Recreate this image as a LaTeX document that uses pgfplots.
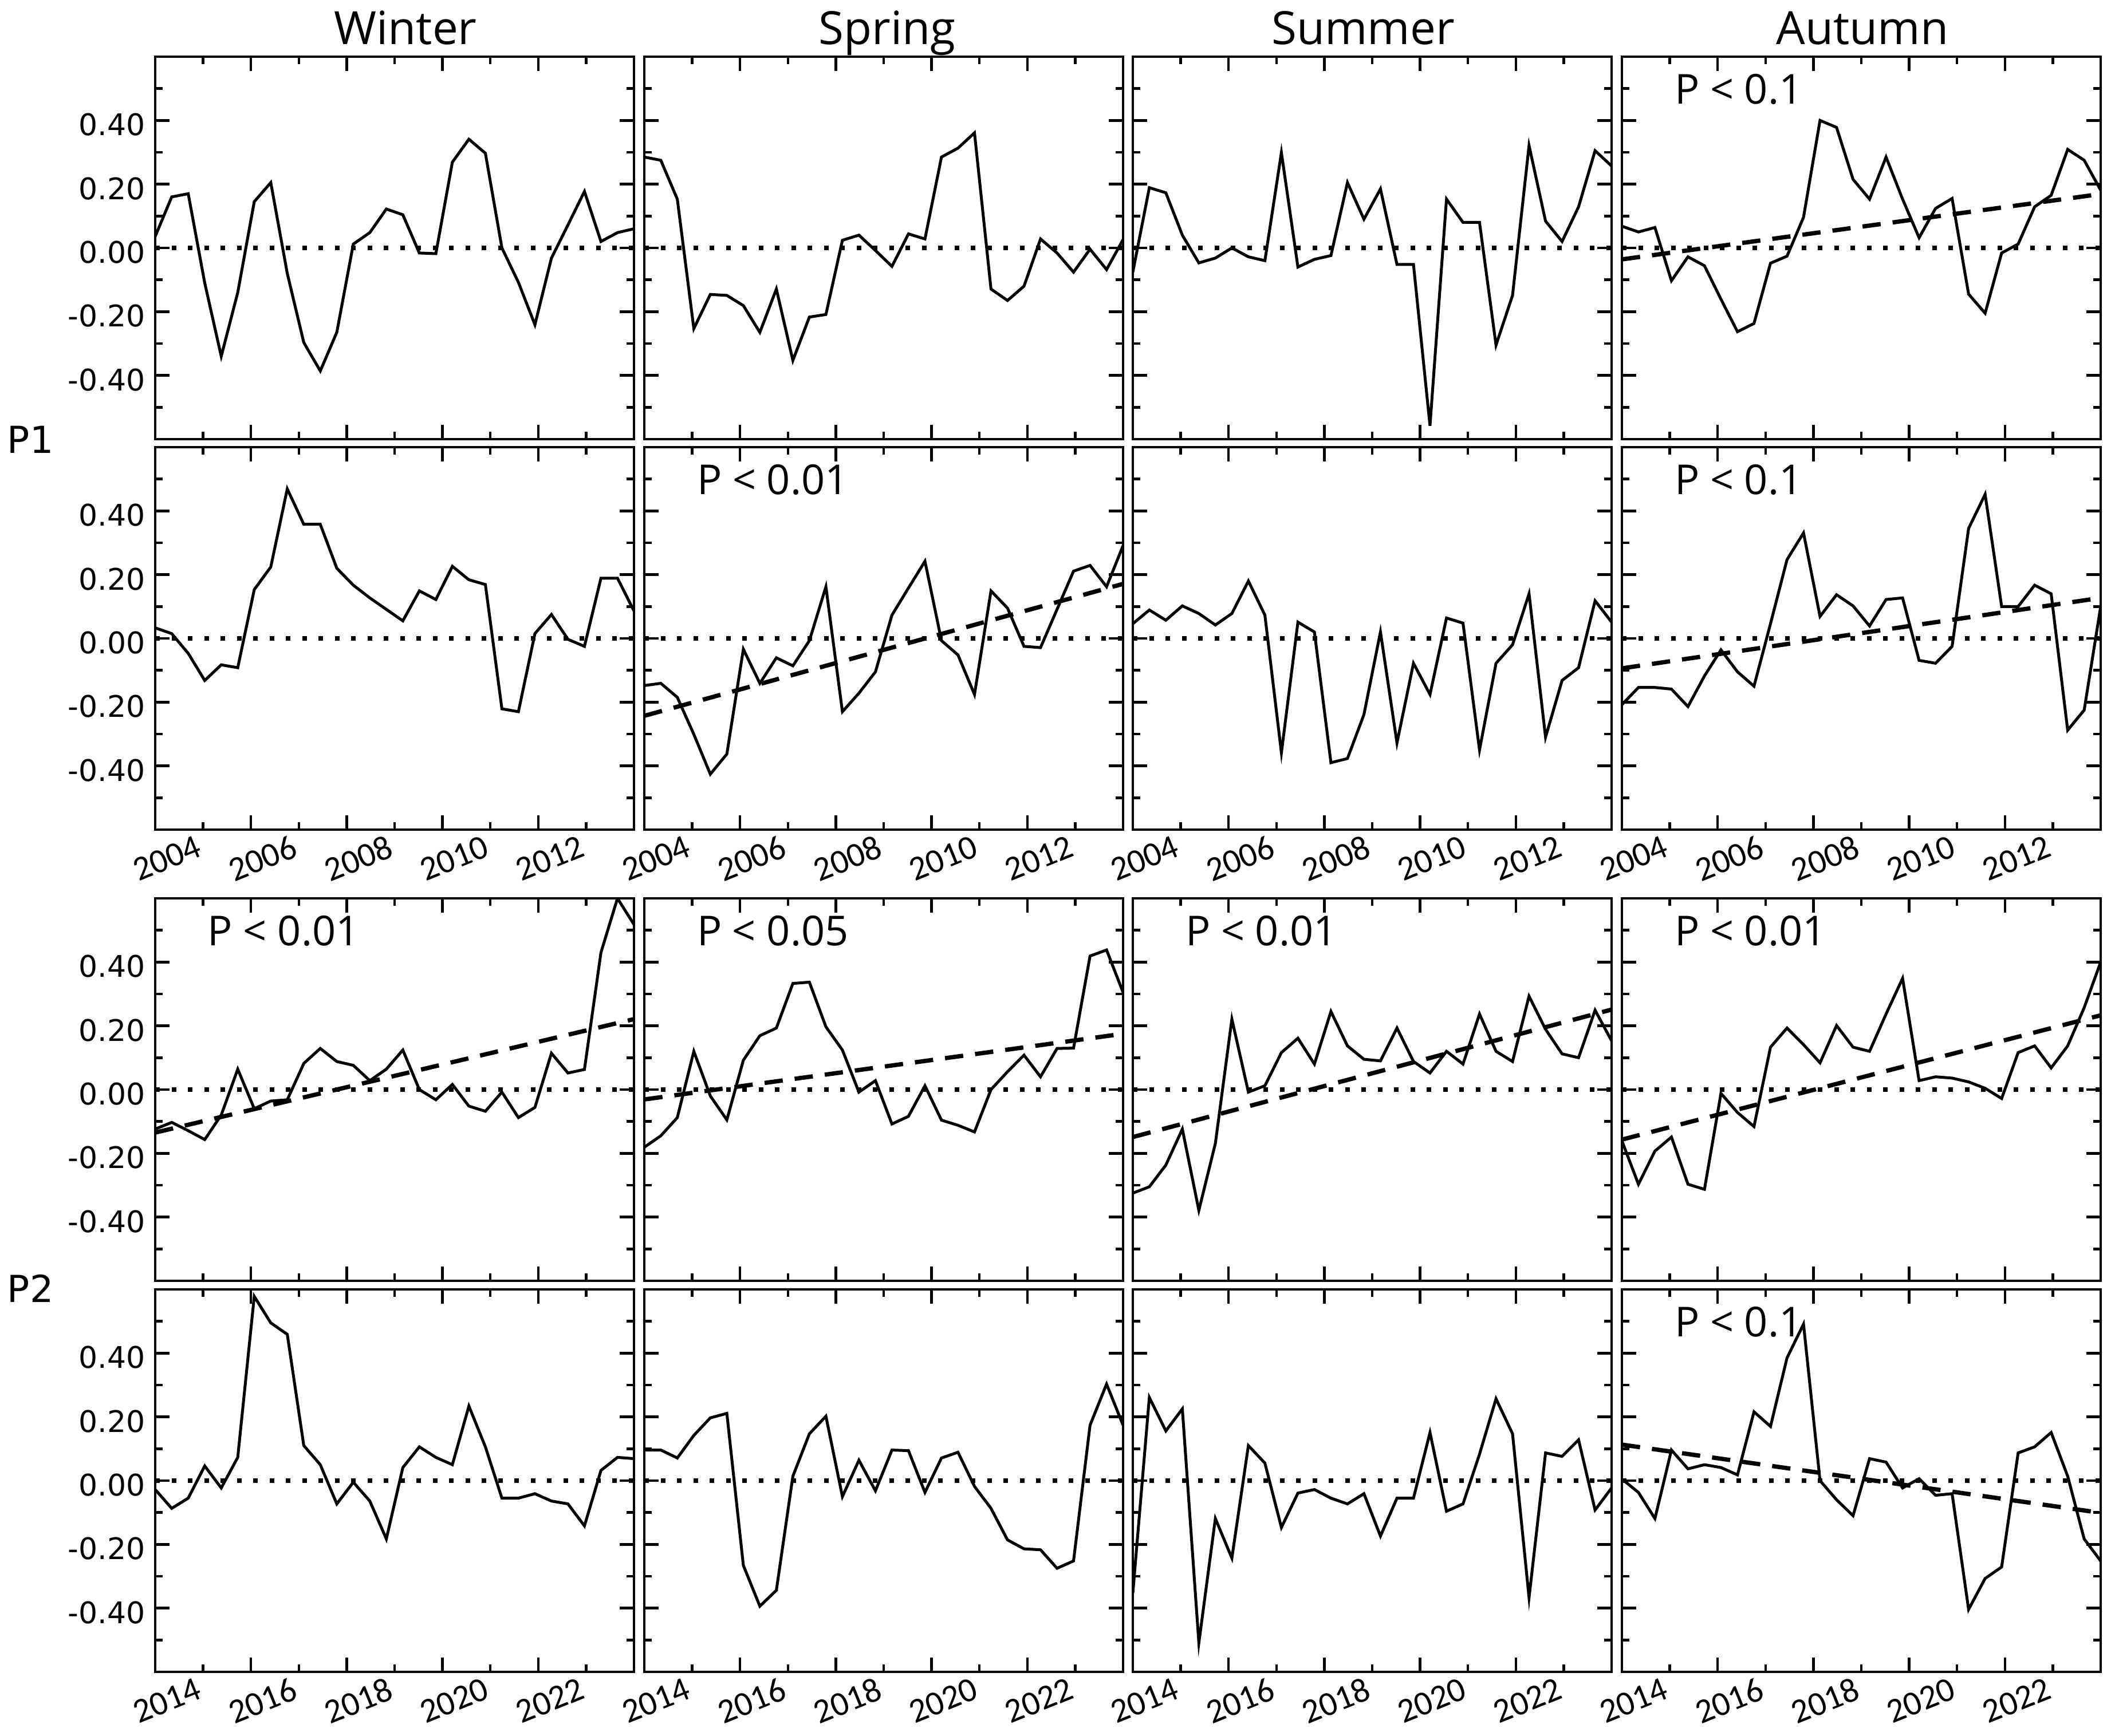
\documentclass[border=0pt]{standalone}
\usepackage{pgfplots}
\pgfplotsset{compat=1.18}
\usepackage{fontspec}
\setmainfont{Open Sans}
\newfontfamily\dejavu{DejaVu Sans}
\newfontfamily\carlito{Carlito}

% one panel = 836 x 668 px of the reference, 1 px = 0.2 pt
\pgfplotsset{
  panel/.style={
    scale only axis, width=167.2pt, height=133.6pt, anchor=north west,
    xmin=0, xmax=29, ymin=-0.6, ymax=0.6,
    axis line style={line width=0.9pt},
    tick align=inside, tick pos=both,
    xtick={0,5.8,11.6,17.4,23.2}, minor xtick={2.9,8.7,14.5,20.3,26.1},
    ytick={-0.4,-0.2,0,0.2,0.4}, minor ytick={-0.5,-0.3,-0.1,0.1,0.3,0.5},
    major tick length=5pt, minor tick length=2.6pt,
    every tick/.style={black, line width=0.9pt},
    xticklabels={}, yticklabels={},
    xticklabel style={font=\carlito\fontsize{12}{12}\selectfont, rotate=22, anchor=center, yshift=-10.8pt},
    yticklabel style={font=\dejavu\fontsize{10.4}{12}\selectfont, yshift=-1.5pt},
  },
  ylab/.style={yticklabels={-0.40,-0.20,0.00,0.20,0.40}},
  xlabA/.style={xticklabels={2004,2006,2008,2010,2012}},
  xlabB/.style={xticklabels={2014,2016,2018,2020,2022}},
  series/.style={black, line width=1pt, no marks},
  trend/.style={black, line width=1.5pt, dash pattern=on 6.4pt off 4.2pt, no marks},
  zero/.style={black, line width=1.6pt, dash pattern=on 1.6pt off 4.1pt, no marks},
}
\newcommand{\zeroline}{\addplot[zero] coordinates {(0,0) (29,0)};}
\newcommand{\ptext}[1]{\node[anchor=north west, inner sep=0pt, xshift=18.2pt, yshift=-5.8pt,
  font=\fontsize{14.4}{16}\selectfont] at (rel axis cs:0,1) {#1};}

\begin{document}
\begin{tikzpicture}
\path[use as bounding box] (0,0) rectangle (737.2pt,-606.4pt);

% column titles
\node[font=\fontsize{16}{18}\selectfont, anchor=base] at (141.6pt,-15.6pt) {Winter};
\node[font=\fontsize{16}{18}\selectfont, anchor=base] at (309.8pt,-15.6pt) {Spring};
\node[font=\fontsize{16}{18}\selectfont, anchor=base] at (476.0pt,-15.6pt) {Summer};
\node[font=\fontsize{16}{18}\selectfont, anchor=base] at (650.4pt,-15.6pt) {Autumn};
\node[font=\dejavu\fontsize{13}{14}\selectfont, anchor=west, inner sep=0pt] at (2.4pt,-153.6pt) {P1};
\node[font=\dejavu\fontsize{13}{14}\selectfont, anchor=west, inner sep=0pt] at (2.4pt,-450pt) {P2};

% ---------------- P1, row 1 ----------------
\begin{axis}[panel, ylab, at={(54.2pt,-19.8pt)}]
\zeroline
\addplot[series] coordinates {(0,0.036)(1,0.16)(2,0.17)(3,-0.11)(4,-0.34)(5,-0.14)(6,0.145)(7,0.205)(8,-0.08)(9,-0.297)(10,-0.386)(11,-0.265)(12,0.012)(13,0.048)(14,0.122)(15,0.104)(16,-0.016)(17,-0.018)(18,0.269)(19,0.341)(20,0.297)(21,0.0)(22,-0.108)(23,-0.241)(24,-0.032)(25,0.072)(26,0.177)(27,0.02)(28,0.048)(29,0.06)};
\end{axis}

\begin{axis}[panel, at={(225.0pt,-19.8pt)}]
\zeroline
\addplot[series] coordinates {(0,0.285)(1,0.275)(2,0.153)(3,-0.253)(4,-0.146)(5,-0.149)(6,-0.181)(7,-0.265)(8,-0.129)(9,-0.353)(10,-0.217)(11,-0.209)(12,0.024)(13,0.04)(14,-0.008)(15,-0.058)(16,0.044)(17,0.028)(18,0.285)(19,0.313)(20,0.361)(21,-0.129)(22,-0.165)(23,-0.12)(24,0.028)(25,-0.016)(26,-0.076)(27,-0.004)(28,-0.068)(29,0.026)};
\end{axis}

\begin{axis}[panel, at={(395.6pt,-19.8pt)}]
\zeroline
\addplot[series] coordinates {(0,-0.076)(1,0.189)(2,0.173)(3,0.04)(4,-0.047)(5,-0.032)(6,0.0)(7,-0.028)(8,-0.04)(9,0.299)(10,-0.06)(11,-0.036)(12,-0.024)(13,0.205)(14,0.09)(15,0.185)(16,-0.052)(17,-0.052)(18,-0.558)(19,0.153)(20,0.08)(21,0.08)(22,-0.305)(23,-0.149)(24,0.321)(25,0.084)(26,0.02)(27,0.129)(28,0.305)(29,0.257)};
\end{axis}

\begin{axis}[panel, at={(566.4pt,-19.8pt)}]
\zeroline
\addplot[series] coordinates {(0,0.068)(1,0.05)(2,0.064)(3,-0.103)(4,-0.028)(5,-0.056)(6,-0.161)(7,-0.263)(8,-0.237)(9,-0.048)(10,-0.026)(11,0.096)(12,0.40)(13,0.378)(14,0.215)(15,0.153)(16,0.285)(17,0.153)(18,0.032)(19,0.124)(20,0.155)(21,-0.145)(22,-0.205)(23,-0.016)(24,0.012)(25,0.129)(26,0.165)(27,0.309)(28,0.275)(29,0.181)};
\addplot[trend] coordinates {(0,-0.036) (29,0.169)};
\ptext{P < 0.1}
\end{axis}

% ---------------- P1, row 2 ----------------
\begin{axis}[panel, ylab, xlabA, at={(54.2pt,-156.2pt)}]
\zeroline
\addplot[series] coordinates {(0,0.033)(1,0.015)(2,-0.047)(3,-0.132)(4,-0.083)(5,-0.092)(6,0.153)(7,0.224)(8,0.469)(9,0.358)(10,0.358)(11,0.22)(12,0.167)(13,0.127)(14,0.091)(15,0.055)(16,0.149)(17,0.122)(18,0.226)(19,0.184)(20,0.169)(21,-0.221)(22,-0.23)(23,0.015)(24,0.075)(25,-0.003)(26,-0.025)(27,0.189)(28,0.189)(29,0.086)};
\end{axis}

\begin{axis}[panel, xlabA, at={(225.0pt,-156.2pt)}]
\zeroline
\addplot[series] coordinates {(0,-0.148)(1,-0.141)(2,-0.185)(3,-0.301)(4,-0.426)(5,-0.363)(6,-0.034)(7,-0.141)(8,-0.061)(9,-0.086)(10,-0.007)(11,0.162)(12,-0.23)(13,-0.172)(14,-0.105)(15,0.073)(16,0.158)(17,0.242)(18,-0.007)(19,-0.052)(20,-0.176)(21,0.149)(22,0.095)(23,-0.025)(24,-0.029)(25,0.091)(26,0.211)(27,0.229)(28,0.162)(29,0.291)};
\addplot[trend] coordinates {(0,-0.243) (29,0.171)};
\ptext{P < 0.01}
\end{axis}

\begin{axis}[panel, xlabA, at={(395.6pt,-156.2pt)}]
\zeroline
\addplot[series] coordinates {(0,0.046)(1,0.089)(2,0.057)(3,0.102)(4,0.078)(5,0.042)(6,0.078)(7,0.18)(8,0.073)(9,-0.359)(10,0.051)(11,0.02)(12,-0.39)(13,-0.377)(14,-0.239)(15,0.02)(16,-0.328)(17,-0.078)(18,-0.176)(19,0.064)(20,0.048)(21,-0.35)(22,-0.078)(23,-0.02)(24,0.14)(25,-0.31)(26,-0.132)(27,-0.092)(28,0.118)(29,0.051)};
\end{axis}

\begin{axis}[panel, xlabA, at={(566.4pt,-156.2pt)}]
\zeroline
\addplot[series] coordinates {(0,-0.208)(1,-0.154)(2,-0.154)(3,-0.159)(4,-0.214)(5,-0.118)(6,-0.036)(7,-0.105)(8,-0.15)(9,0.046)(10,0.247)(11,0.331)(12,0.069)(13,0.137)(14,0.102)(15,0.039)(16,0.122)(17,0.127)(18,-0.069)(19,-0.078)(20,-0.025)(21,0.345)(22,0.452)(23,0.10)(24,0.10)(25,0.167)(26,0.14)(27,-0.288)(28,-0.225)(29,0.10)};
\addplot[trend] coordinates {(0,-0.094) (29,0.127)};
\ptext{P < 0.1}
\end{axis}

% ---------------- P2, row 3 ----------------
\begin{axis}[panel, ylab, at={(54.2pt,-313.8pt)}]
\zeroline
\addplot[series] coordinates {(0,-0.124)(1,-0.103)(2,-0.129)(3,-0.157)(4,-0.08)(5,0.064)(6,-0.06)(7,-0.036)(8,-0.032)(9,0.082)(10,0.129)(11,0.088)(12,0.076)(13,0.028)(14,0.064)(15,0.124)(16,0.0)(17,-0.032)(18,0.016)(19,-0.052)(20,-0.068)(21,-0.008)(22,-0.088)(23,-0.056)(24,0.114)(25,0.052)(26,0.063)(27,0.43)(28,0.60)(29,0.518)};
\addplot[trend] coordinates {(0,-0.135) (29,0.221)};
\ptext{P < 0.01}
\end{axis}

\begin{axis}[panel, at={(225.0pt,-313.8pt)}]
\zeroline
\addplot[series] coordinates {(0,-0.181)(1,-0.145)(2,-0.088)(3,0.12)(4,-0.02)(5,-0.095)(6,0.092)(7,0.169)(8,0.193)(9,0.333)(10,0.337)(11,0.197)(12,0.124)(13,-0.008)(14,0.028)(15,-0.108)(16,-0.084)(17,0.012)(18,-0.096)(19,-0.112)(20,-0.133)(21,0.0)(22,0.056)(23,0.108)(24,0.04)(25,0.129)(26,0.13)(27,0.419)(28,0.438)(29,0.305)};
\addplot[trend] coordinates {(0,-0.031) (29,0.175)};
\ptext{P < 0.05}
\end{axis}

\begin{axis}[panel, at={(395.6pt,-313.8pt)}]
\zeroline
\addplot[series] coordinates {(0,-0.325)(1,-0.305)(2,-0.237)(3,-0.124)(4,-0.379)(5,-0.169)(6,0.221)(7,-0.008)(8,0.012)(9,0.116)(10,0.161)(11,0.08)(12,0.245)(13,0.137)(14,0.095)(15,0.09)(16,0.193)(17,0.088)(18,0.052)(19,0.12)(20,0.08)(21,0.237)(22,0.12)(23,0.088)(24,0.293)(25,0.189)(26,0.112)(27,0.1)(28,0.249)(29,0.153)};
\addplot[trend] coordinates {(0,-0.149) (29,0.251)};
\ptext{P < 0.01}
\end{axis}

\begin{axis}[panel, at={(566.4pt,-313.8pt)}]
\zeroline
\addplot[series] coordinates {(0,-0.161)(1,-0.297)(2,-0.193)(3,-0.149)(4,-0.297)(5,-0.313)(6,-0.012)(7,-0.072)(8,-0.116)(9,0.133)(10,0.193)(11,0.141)(12,0.084)(13,0.201)(14,0.133)(15,0.12)(16,0.237)(17,0.349)(18,0.028)(19,0.04)(20,0.036)(21,0.024)(22,0.004)(23,-0.028)(24,0.116)(25,0.137)(26,0.068)(27,0.137)(28,0.257)(29,0.40)};
\addplot[trend] coordinates {(0,-0.157) (29,0.233)};
\ptext{P < 0.01}
\end{axis}

% ---------------- P2, row 4 ----------------
\begin{axis}[panel, ylab, xlabB, at={(54.2pt,-450.4pt)}]
\zeroline
\addplot[series] coordinates {(0,-0.028)(1,-0.087)(2,-0.055)(3,0.046)(4,-0.023)(5,0.073)(6,0.578)(7,0.495)(8,0.459)(9,0.11)(10,0.05)(11,-0.073)(12,-0.005)(13,-0.064)(14,-0.183)(15,0.041)(16,0.106)(17,0.073)(18,0.05)(19,0.234)(20,0.106)(21,-0.055)(22,-0.055)(23,-0.041)(24,-0.064)(25,-0.073)(26,-0.142)(27,0.032)(28,0.073)(29,0.069)};
\end{axis}

\begin{axis}[panel, xlabB, at={(225.0pt,-450.4pt)}]
\zeroline
\addplot[series] coordinates {(0,0.096)(1,0.096)(2,0.071)(3,0.142)(4,0.197)(5,0.211)(6,-0.266)(7,-0.394)(8,-0.344)(9,0.014)(10,0.147)(11,0.202)(12,-0.05)(13,0.064)(14,-0.032)(15,0.096)(16,0.094)(17,-0.037)(18,0.071)(19,0.089)(20,-0.018)(21,-0.087)(22,-0.186)(23,-0.214)(24,-0.217)(25,-0.275)(26,-0.252)(27,0.174)(28,0.303)(29,0.174)};
\end{axis}

\begin{axis}[panel, xlabB, at={(395.6pt,-450.4pt)}]
\zeroline
\addplot[series] coordinates {(0,-0.353)(1,0.261)(2,0.156)(3,0.225)(4,-0.509)(5,-0.119)(6,-0.243)(7,0.11)(8,0.055)(9,-0.147)(10,-0.039)(11,-0.028)(12,-0.055)(13,-0.073)(14,-0.041)(15,-0.174)(16,-0.055)(17,-0.055)(18,0.151)(19,-0.096)(20,-0.073)(21,0.083)(22,0.257)(23,0.147)(24,-0.367)(25,0.087)(26,0.076)(27,0.128)(28,-0.092)(29,-0.023)};
\end{axis}

\begin{axis}[panel, xlabB, at={(566.4pt,-450.4pt)}]
\zeroline
\addplot[series] coordinates {(0,0.005)(1,-0.037)(2,-0.119)(3,0.096)(4,0.037)(5,0.05)(6,0.041)(7,0.018)(8,0.216)(9,0.17)(10,0.385)(11,0.491)(12,0.0)(13,-0.06)(14,-0.11)(15,0.069)(16,0.058)(17,-0.023)(18,0.006)(19,-0.046)(20,-0.041)(21,-0.404)(22,-0.307)(23,-0.271)(24,0.087)(25,0.106)(26,0.151)(27,0.014)(28,-0.183)(29,-0.252)};
\addplot[trend] coordinates {(0,0.113) (29,-0.101)};
\ptext{P < 0.1}
\end{axis}
\end{tikzpicture}
\end{document}
